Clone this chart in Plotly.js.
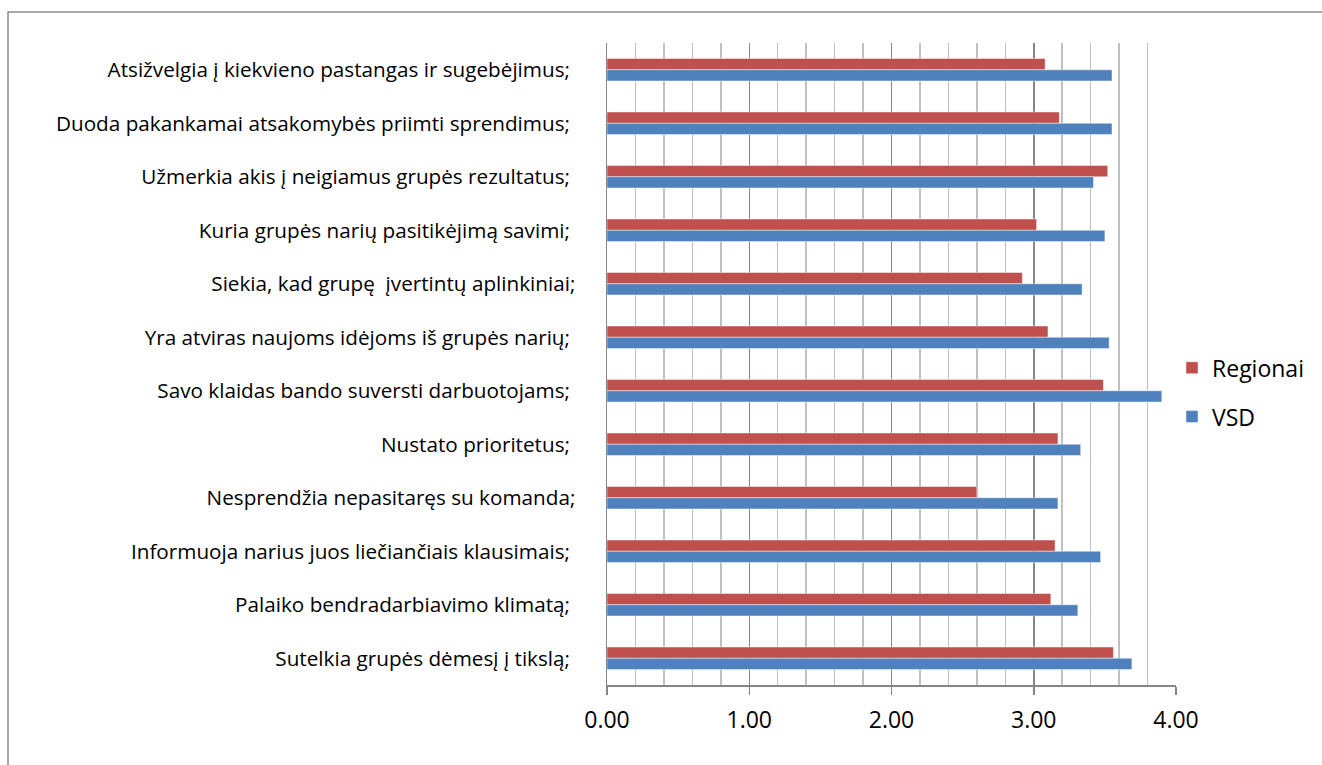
<!DOCTYPE html>
<html>
<head>
<meta charset="utf-8">
<script src="https://cdn.plot.ly/plotly-3.0.1.min.js"></script>
<style>
  html, body { margin: 0; padding: 0; background: #ffffff; }
  #chart { width: 1322px; height: 765px; }
</style>
</head>
<body>
<div id="chart"></div>
<script>
// Leadership statements, listed top to bottom
const NB = '\u00A0';
const categories = [
  'Atsižvelgia į kiekvieno pastangas ir sugebėjimus;' + NB,
  'Duoda pakankamai atsakomybės priimti sprendimus;' + NB,
  'Užmerkia akis į neigiamus grupės rezultatus;' + NB,
  'Kuria grupės narių pasitikėjimą savimi;' + NB,
  'Siekia, kad grupę  įvertintų aplinkiniai;',
  'Yra atviras naujoms idėjoms iš grupės narių;' + NB,
  'Savo klaidas bando suversti darbuotojams;' + NB,
  'Nustato prioritetus;' + NB,
  'Nesprendžia nepasitaręs su komanda;',
  'Informuoja narius juos liečiančiais klausimais;' + NB,
  'Palaiko bendradarbiavimo klimatą;' + NB,
  'Sutelkia grupės dėmesį į tikslą;' + NB
];

const regionai = [3.08, 3.18, 3.52, 3.02, 2.92, 3.10, 3.49, 3.17, 2.60, 3.15, 3.12, 3.56];
const vsd      = [3.55, 3.55, 3.42, 3.50, 3.34, 3.53, 3.90, 3.33, 3.17, 3.47, 3.31, 3.69];

const seriesNames = ['Regionai', 'VSD'];
const tickValues = [0, 1, 2, 3, 4];
const tickLabels = ['0.00', '1.00', '2.00', '3.00', '4.00'];

const FONT = 'Open Sans, Arial, sans-serif';
const AXIS_GREY = '#868686';

const traces = [
  {
    type: 'bar', orientation: 'h', name: seriesNames[0], legendgroup: 'a',
    y: categories, x: regionai,
    marker: { color: '#C0504D', line: { color: 'rgba(255,255,255,0.45)', width: 1 } },
    hoverinfo: 'x+name'
  },
  {
    type: 'bar', orientation: 'h', name: seriesNames[1], legendgroup: 'b',
    y: categories, x: vsd,
    marker: { color: '#4F81BD', line: { color: 'rgba(255,255,255,0.45)', width: 1 } },
    hoverinfo: 'x+name'
  }
];

const layout = {
  width: 1322, height: 765,
  margin: { l: 607, r: 146, t: 43, b: 80, pad: 0 },
  paper_bgcolor: '#ffffff', plot_bgcolor: '#ffffff',
  barmode: 'group', bargap: 0.58, bargroupgap: 0,
  font: { family: FONT, color: '#000000' },
  showlegend: true,
  legend: {
    x: 0.993, xanchor: 'left', y: 0.456, yanchor: 'middle',
    font: { family: FONT, size: 23, color: '#000000' },
    tracegroupgap: 16, itemwidth: 30, bgcolor: 'rgba(0,0,0,0)'
  },
  xaxis: {
    range: [0, 4], tickvals: tickValues, ticktext: tickLabels,
    showgrid: true, gridcolor: AXIS_GREY, gridwidth: 1.5,
    minor: { dtick: 0.2, showgrid: true, gridcolor: '#c0c0c0', gridwidth: 1.5, ticks: '' },
    showline: true, linecolor: AXIS_GREY, linewidth: 1.5,
    ticks: 'outside', ticklen: 8, tickcolor: AXIS_GREY, tickwidth: 1.5,
    tickfont: { family: FONT, size: 23, color: '#000000' },
    ticklabelstandoff: 6,
    zeroline: false, fixedrange: true
  },
  yaxis: {
    autorange: 'reversed', type: 'category',
    showline: true, linecolor: AXIS_GREY, linewidth: 1.5,
    showgrid: false, ticks: '',
    tickfont: { family: FONT, size: 20.7, color: '#000000' },
    ticklabelstandoff: 26,
    fixedrange: true
  },
  shapes: [
    {
      type: 'rect', xref: 'paper', yref: 'paper', layer: 'below',
      x0: -1.0527, x1: 1.3, y0: -0.2, y1: 1.0484,
      line: { color: '#8c8c8c', width: 1.5 }, fillcolor: 'rgba(0,0,0,0)'
    }
  ]
};

Plotly.newPlot('chart', traces, layout, { displayModeBar: false, staticPlot: true });
</script>
</body>
</html>
